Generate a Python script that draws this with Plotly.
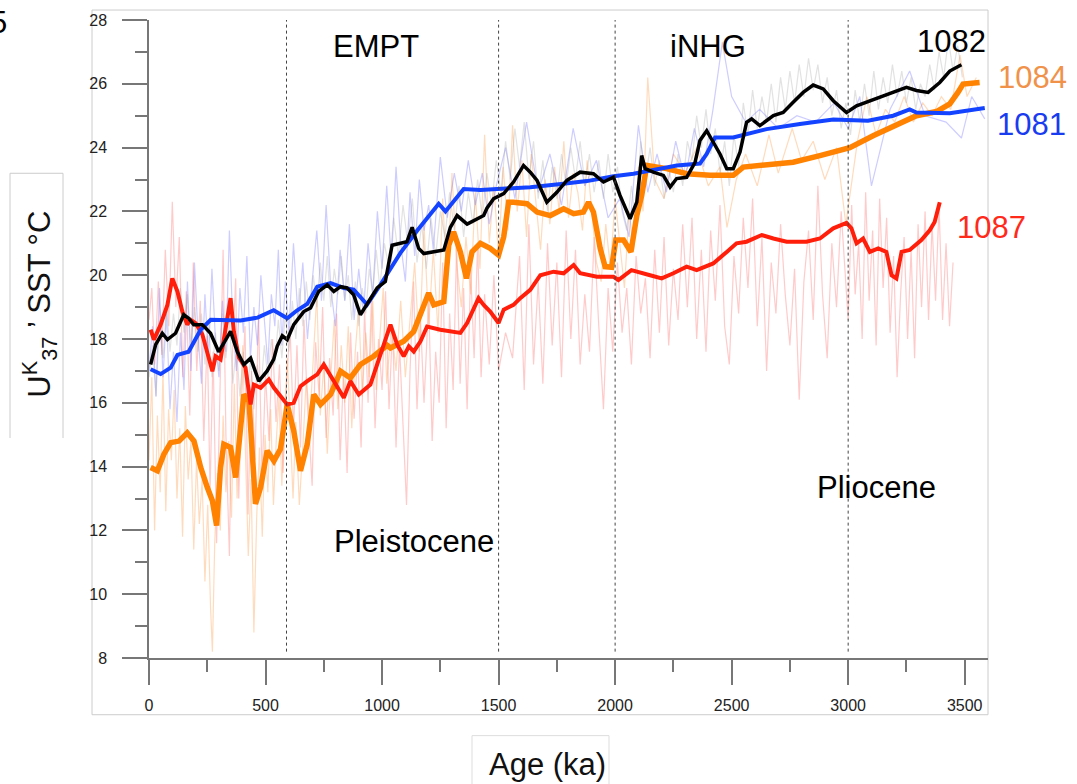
import plotly.graph_objects as go

# ---------------- data ----------------
boundaries = [590, 1500, 2000, 3000]
x_ticks = [0, 500, 1000, 1500, 2000, 2500, 3000, 3500]
y_ticks = [8, 10, 12, 14, 16, 18, 20, 22, 24, 26, 28]

# Site 1081 smoothed
s1081_age = [7, 50, 93, 122, 170, 222, 265, 321, 393, 466, 535, 593, 636, 679, 722, 779, 835, 878, 936, 993,
             1079, 1151, 1243, 1272, 1350, 1422, 1507, 1636, 1778, 1879, 1993, 2079, 2265, 2364, 2393, 2429,
             2507, 2650, 2793, 2936, 3085, 3193, 3264, 3293, 3436, 3521, 3586]
s1081_sst = [17.05, 16.9, 17.1, 17.5, 17.6, 18.3, 18.6, 18.6, 18.58, 18.67, 18.9, 18.65, 18.9, 19.1, 19.64, 19.75,
             19.6, 19.55, 19.08, 19.7, 20.7, 21.4, 22.24, 22.0, 22.7, 22.67, 22.7, 22.76, 22.87, 22.95, 23.1,
             23.18, 23.44, 23.5, 23.8, 24.32, 24.32, 24.58, 24.74, 24.88, 24.84, 25.0, 25.2, 25.1, 25.08, 25.18, 25.24]

# Site 1082 smoothed
s1082_age = [7, 29, 57, 79, 114, 149, 170, 192, 229, 264, 299, 329, 350, 379, 407, 436, 471, 507, 535, 550,
             572, 593, 621, 664, 693, 728, 765, 793, 822, 850, 878, 907, 936, 979, 1014, 1043, 1079, 1107,
             1129, 1157, 1179, 1222, 1265, 1293, 1322, 1365, 1407, 1436, 1450, 1479, 1522, 1564, 1607, 1636,
             1665, 1707, 1750, 1793, 1850, 1907, 1950, 1993, 2021, 2064, 2093, 2114, 2129, 2164, 2207, 2236,
             2264, 2307, 2343, 2364, 2393, 2421, 2450, 2479, 2507, 2536, 2564, 2586, 2621, 2679, 2721, 2764,
             2807, 2850, 2893, 2936, 2993, 3036, 3093, 3150, 3207, 3250, 3293, 3343, 3393, 3436, 3486]
s1082_sst = [17.2, 17.83, 18.18, 17.98, 18.18, 18.76, 18.65, 18.45, 18.45, 18.18, 17.6, 17.98, 18.24, 17.6, 17.2,
             17.4, 16.68, 17.0, 17.36, 17.77, 18.1, 17.98, 18.45, 18.86, 18.97, 19.49, 19.7, 19.49, 19.64, 19.6,
             19.39, 18.76, 19.12, 19.6, 19.8, 20.94, 21.0, 21.05, 21.5, 20.84, 20.68, 20.73, 20.79, 21.5, 21.87,
             21.6, 21.77, 21.87, 22.1, 22.4, 22.56, 22.92, 23.44, 23.23, 22.97, 22.29, 22.6, 22.97, 23.23, 23.18,
             22.92, 23.07, 22.5, 21.77, 22.29, 23.75, 23.34, 23.23, 23.13, 22.76, 23.03, 23.07, 23.54, 24.22,
             24.53, 24.17, 23.8, 23.34, 23.34, 23.86, 24.79, 24.9, 24.69, 25.0, 25.1, 25.42, 25.73, 25.96, 25.84,
             25.47, 25.1, 25.31, 25.47, 25.63, 25.79, 25.89, 25.79, 25.73, 26.04, 26.4, 26.6]

# Site 1084 smoothed
s1084_age = [7, 36, 64, 93, 129, 164, 193, 222, 250, 272, 290, 307, 321, 350, 372, 393, 407, 429, 457, 479, 507,
             536, 564, 593, 621, 650, 679, 707, 736, 779, 822, 864, 907, 964, 1022, 1036, 1093, 1136, 1165, 1200,
             1222, 1265, 1286, 1307, 1336, 1362, 1386, 1422, 1464, 1500, 1522, 1543, 1564, 1622, 1665, 1722,
             1779, 1822, 1864, 1886, 1907, 1936, 1957, 1985, 2003, 2036, 2068, 2093, 2114, 2136, 2221, 2307,
             2407, 2479, 2507, 2550, 2650, 2764, 2879, 2964, 3007, 3107, 3207, 3293, 3379, 3436, 3471, 3493, 3564]
s1084_sst = [13.97, 13.87, 14.39, 14.75, 14.8, 15.06, 14.8, 13.97, 13.35, 12.93, 12.15, 13.97, 14.7, 14.6, 13.66,
             15.01, 16.26, 16.05, 12.83, 13.35, 14.5, 14.18, 14.55, 15.95, 15.12, 13.87, 14.7, 16.26, 15.95, 16.26,
             16.99, 16.78, 17.2, 17.46, 17.8, 17.72, 17.93, 18.24, 18.76, 19.44, 19.07, 19.17, 20.94, 21.36, 20.73,
             19.9, 20.73, 21.0, 20.84, 20.63, 21.2, 22.29, 22.29, 22.24, 21.98, 21.87, 22.08, 21.93, 21.98, 22.29,
             21.98, 20.84, 20.27, 20.25, 21.1, 21.1, 20.73, 21.87, 22.5, 23.44, 23.34, 23.18, 23.13, 23.15, 23.13,
             23.39, 23.44, 23.54, 23.75, 23.9, 24.0, 24.37, 24.69, 25.0, 25.13, 25.37, 25.73, 25.99, 26.04]

# Site 1087 smoothed
s1087_age = [7, 21, 50, 79, 100, 122, 143, 164, 179, 200, 229, 250, 272, 286, 307, 329, 350, 364, 386, 414, 436,
             450, 479, 514, 536, 564, 593, 621, 650, 679, 722, 750, 793, 836, 864, 900, 950, 993, 1036, 1065,
             1093, 1115, 1136, 1165, 1193, 1250, 1336, 1365, 1414, 1436, 1464, 1500, 1522, 1564, 1593, 1636,
             1679, 1736, 1779, 1822, 1850, 1922, 1993, 2014, 2070, 2150, 2200, 2250, 2307, 2350, 2421, 2479,
             2521, 2564, 2629, 2679, 2736, 2821, 2879, 2936, 2993, 3014, 3036, 3064, 3093, 3129, 3164, 3186,
             3207, 3229, 3264, 3314, 3350, 3371, 3393]
s1087_sst = [18.29, 17.98, 18.45, 19.07, 19.9, 19.49, 18.86, 18.45, 18.6, 18.5, 18.14, 17.61, 16.99, 17.46, 17.36,
             18.34, 19.28, 18.24, 17.41, 17.1, 15.95, 16.57, 16.47, 16.73, 16.47, 16.21, 15.95, 16.0, 16.52, 16.68,
             16.89, 17.2, 16.68, 16.16, 16.68, 16.26, 16.57, 17.5, 18.45, 17.82, 17.46, 17.77, 17.61, 17.93, 18.39,
             18.29, 18.19, 18.5, 19.28, 19.07, 18.86, 18.5, 18.92, 19.07, 19.28, 19.54, 20.0, 20.11, 20.06, 20.32,
             20.06, 19.95, 19.95, 19.85, 20.16, 20.0, 19.9, 20.06, 20.27, 20.16, 20.37, 20.73, 21.0, 21.05, 21.26,
             21.15, 21.05, 21.05, 21.15, 21.47, 21.64, 21.47, 21.0, 21.15, 20.73, 20.84, 20.73, 20.0, 19.9, 20.73,
             20.79, 21.1, 21.41, 21.67, 22.29]

# Raw records
r1087_age = [0, 12, 25, 40, 55, 70, 85, 100, 115, 130, 145, 160, 175, 190, 205, 220, 235, 250, 262, 275, 290,
             305, 318, 330, 345, 358, 372, 385, 398, 412, 425, 440, 455, 470, 485, 500, 515, 530, 545, 560, 575,
             590, 605, 620, 635, 650, 665, 680, 700, 715, 730, 745, 760, 775, 790, 805, 820, 835, 850, 865, 880,
             895, 910, 925, 940, 955, 970, 985, 1000, 1015, 1030, 1045, 1060, 1075, 1090, 1105, 1120, 1135, 1150,
             1165, 1180, 1200, 1215, 1230, 1245, 1260, 1275, 1290, 1305, 1320, 1335, 1350, 1365, 1380, 1395, 1410,
             1425, 1440, 1460, 1480, 1500, 1530, 1560, 1590, 1610, 1630, 1650, 1670, 1690, 1710, 1730, 1750, 1770,
             1790, 1810, 1830, 1850, 1870, 1890, 1910, 1930, 1950, 1970, 1990, 2010, 2030, 2050, 2070, 2090, 2110,
             2130, 2150, 2170, 2190, 2210, 2230, 2250, 2270, 2290, 2310, 2330, 2350, 2370, 2390, 2410, 2430, 2450,
             2470, 2490, 2510, 2530, 2550, 2570, 2590, 2610, 2630, 2650, 2670, 2690, 2710, 2730, 2750, 2770, 2790,
             2810, 2830, 2850, 2870, 2890, 2910, 2930, 2950, 2970, 2990, 3000, 3015, 3030, 3045, 3060, 3075, 3090,
             3105, 3120, 3135, 3150, 3165, 3180, 3195, 3210, 3225, 3240, 3255, 3270, 3285, 3300, 3315, 3330, 3345,
             3360, 3375, 3390, 3405, 3420, 3435, 3450]
r1087_sst = [18.6, 19.6, 17.2, 19.8, 17.5, 20.8, 18.4, 22.3, 19.0, 21.2, 16.8, 19.5, 15.6, 20.4, 17.0, 19.2, 14.8,
             18.1, 13.2, 17.6, 11.6, 16.8, 20.8, 15.0, 11.2, 17.5, 19.9, 13.0, 16.2, 18.4, 12.5, 17.0, 14.2, 18.8,
             13.6, 16.9, 14.8, 18.0, 15.4, 17.2, 13.8, 16.6, 18.4, 15.2, 17.8, 14.6, 18.6, 15.9, 13.4, 17.9, 16.2,
             19.0, 14.9, 17.4, 15.6, 18.8, 14.2, 17.0, 13.8, 18.2, 15.5, 17.6, 14.6, 18.9, 16.0, 19.4, 15.2, 18.0,
             16.4, 19.5, 15.8, 18.4, 14.6, 17.8, 15.2, 12.8, 17.0, 19.8, 15.8, 18.6, 16.0, 19.2, 14.8, 17.6, 16.0,
             20.4, 15.2, 18.8, 16.4, 20.9, 16.6, 19.6, 15.8, 20.2, 17.4, 21.0, 16.8, 19.4, 17.2, 20.0, 17.0, 18.2,
             17.4, 20.6, 16.4, 21.6, 17.2, 19.8, 16.6, 21.0, 17.8, 20.4, 16.8, 21.4, 18.0, 20.8, 17.2, 19.4, 17.6,
             21.2, 18.4, 15.8, 19.6, 17.6, 20.4, 18.2, 19.6, 17.2, 20.6, 18.8, 19.9, 17.4, 20.8, 18.2, 21.2, 17.8,
             20.2, 18.6, 21.6, 19.0, 21.8, 18.0, 20.8, 17.6, 21.4, 19.2, 22.2, 18.4, 17.2, 20.6, 18.8, 21.8, 19.6,
             22.4, 18.4, 21.2, 17.0, 20.4, 18.8, 21.6, 19.4, 17.8, 20.2, 16.1, 19.8, 21.4, 18.6, 22.8, 19.4, 17.4,
             21.0, 19.0, 22.0, 19.6, 18.6, 22.2, 19.4, 21.0, 18.0, 22.6, 19.2, 21.4, 17.8, 22.4, 19.6, 21.8, 18.2,
             20.6, 16.8, 19.4, 21.2, 18.0, 20.8, 17.4, 21.6, 19.0, 22.0, 18.6, 21.6, 19.2, 22.2, 18.6, 21.0, 18.4,
             20.4]

r1084_age = [0, 12, 24, 36, 48, 60, 72, 84, 96, 108, 120, 132, 144, 156, 168, 180, 192, 204, 216, 228, 240, 252,
             264, 272, 282, 294, 306, 318, 330, 342, 354, 366, 378, 390, 402, 414, 426, 438, 450, 462, 474, 486,
             498, 510, 522, 534, 546, 558, 570, 582, 594, 606, 618, 630, 645, 660, 675, 690, 705, 720, 735, 750,
             765, 780, 795, 810, 825, 840, 855, 870, 885, 900, 915, 930, 945, 960, 975, 990, 1005, 1020, 1040,
             1060, 1080, 1100, 1120, 1140, 1160, 1180, 1200, 1220, 1240, 1260, 1280, 1300, 1320, 1340, 1360, 1380,
             1400, 1420, 1440, 1460, 1480, 1500, 1520, 1540, 1560, 1580, 1600, 1620, 1640, 1660, 1680, 1700, 1720,
             1740, 1760, 1780, 1800, 1820, 1840, 1860, 1880, 1900, 1920, 1940, 1960, 1980, 2000, 2020, 2040, 2060,
             2080, 2100, 2120, 2140, 2170, 2210, 2250, 2300, 2350, 2400, 2450, 2480, 2520, 2560, 2610, 2660, 2700,
             2760, 2800, 2850, 2900, 2950, 2990, 3040, 3080, 3120, 3160, 3200, 3240, 3280, 3320, 3360, 3400, 3440,
             3480, 3510, 3550]
r1084_sst = [14.2, 16.8, 12.0, 15.6, 13.2, 17.0, 12.6, 15.8, 14.2, 16.4, 13.0, 15.2, 11.8, 15.9, 13.6, 14.8, 11.4,
             14.2, 12.2, 13.6, 10.4, 12.8, 9.6, 8.2, 11.6, 13.8, 12.0, 15.6, 13.2, 14.8, 12.4, 16.6, 13.0, 15.2,
             17.8, 14.4, 11.2, 13.6, 8.8, 12.4, 14.6, 11.8, 15.0, 13.2, 15.8, 12.8, 14.8, 16.2, 13.4, 15.6, 17.4,
             15.2, 13.0, 15.4, 12.8, 14.6, 16.8, 15.4, 17.6, 19.4, 15.6, 17.2, 14.4, 16.8, 18.6, 15.8, 17.8, 16.0,
             18.4, 15.2, 17.6, 19.0, 16.2, 18.2, 16.8, 19.2, 16.4, 18.0, 19.6, 16.6, 18.4, 17.0, 19.2, 16.8, 18.6,
             20.4, 17.6, 21.6, 18.4, 20.8, 18.2, 22.4, 19.6, 23.2, 20.4, 19.0, 21.2, 19.4, 22.6, 20.2, 24.4, 21.0,
             22.8, 20.6, 23.4, 21.4, 24.7, 22.0, 23.6, 21.2, 23.8, 22.2, 20.8, 23.0, 21.6, 23.4, 22.0, 24.2, 21.8,
             23.2, 22.6, 21.4, 23.6, 22.0, 20.4, 19.8, 21.6, 20.2, 22.4, 21.0, 19.6, 22.0, 20.8, 23.4, 22.0, 26.2,
             23.0, 22.4, 23.8, 23.2, 24.0, 22.8, 23.4, 21.5, 23.0, 23.8, 22.8, 24.4, 23.2, 24.6, 23.6, 24.2, 23.0,
             24.0, 21.6, 24.2, 25.6, 24.4, 25.2, 24.8, 25.6, 24.8, 25.4, 25.0, 25.6, 25.2, 26.9, 25.6, 26.2]

r1081_age = [0, 15, 30, 45, 60, 75, 90, 105, 120, 135, 150, 165, 180, 195, 210, 225, 240, 255, 270, 285, 300, 315,
             330, 345, 360, 375, 390, 405, 420, 435, 450, 465, 480, 495, 510, 525, 540, 555, 570, 585, 600, 620,
             640, 660, 680, 700, 720, 740, 760, 780, 800, 820, 840, 860, 880, 900, 920, 940, 960, 980, 1000, 1020,
             1040, 1060, 1080, 1100, 1120, 1140, 1160, 1180, 1200, 1220, 1250, 1280, 1310, 1340, 1370, 1400, 1430,
             1460, 1490, 1530, 1570, 1620, 1670, 1720, 1770, 1820, 1870, 1920, 1970, 2020, 2060, 2100, 2140, 2180,
             2220, 2260, 2300, 2340, 2380, 2420, 2460, 2500, 2560, 2620, 2700, 2780, 2860, 2940, 3000, 3050, 3100,
             3180, 3264, 3330, 3420, 3486, 3530, 3586]
r1081_sst = [17.0, 18.4, 16.2, 19.6, 16.8, 18.8, 15.8, 17.6, 15.4, 18.2, 16.4, 19.8, 17.0, 20.4, 18.2, 16.6, 19.4,
             17.4, 20.2, 18.0, 16.8, 19.2, 17.6, 21.4, 18.4, 17.0, 19.6, 18.2, 20.6, 17.4, 19.0, 17.8, 20.0, 18.6,
             17.2, 19.4, 18.4, 20.8, 17.8, 19.8, 18.2, 21.0, 18.6, 20.4, 18.0, 19.8, 21.4, 19.2, 22.2, 19.6, 18.4,
             20.8, 19.2, 21.6, 18.6, 20.2, 18.8, 21.0, 19.4, 22.0, 20.2, 22.8, 20.4, 23.4, 21.0, 19.8, 22.6, 20.6,
             23.0, 21.4, 22.2, 20.8, 23.7, 21.8, 23.2, 22.0, 23.6, 22.2, 23.2, 21.6, 22.8, 24.0, 22.4, 24.8, 22.6,
             23.8, 22.2, 24.6, 22.8, 23.6, 21.8, 22.4, 21.2, 24.7, 22.6, 23.8, 22.6, 24.2, 23.0, 24.6, 23.4, 25.2,
             27.3, 25.6, 24.8, 25.2, 24.6, 25.0, 24.8, 25.4, 24.6, 25.6, 22.8, 25.2, 26.4, 25.0, 24.8, 24.3, 25.6,
             24.9]

r1082_age = [0, 15, 30, 45, 60, 75, 90, 105, 120, 135, 150, 165, 180, 195, 210, 225, 240, 255, 270, 285, 300, 315,
             330, 345, 360, 375, 390, 405, 420, 435, 450, 465, 480, 495, 510, 525, 540, 555, 570, 585, 600, 615,
             630, 645, 660, 675, 690, 705, 720, 735, 750, 765, 780, 795, 810, 825, 840, 855, 870, 885, 900, 915,
             930, 945, 960, 975, 990, 1010, 1030, 1050, 1070, 1090, 1110, 1130, 1150, 1170, 1190, 1210, 1230, 1250,
             1270, 1290, 1310, 1330, 1350, 1370, 1390, 1410, 1430, 1450, 1470, 1490, 1510, 1530, 1550, 1570, 1590,
             1610, 1630, 1650, 1670, 1690, 1710, 1730, 1750, 1770, 1790, 1810, 1830, 1850, 1870, 1890, 1910, 1930,
             1950, 1970, 1990, 2010, 2030, 2050, 2070, 2090, 2110, 2130, 2150, 2170, 2190, 2210, 2230, 2250, 2270,
             2290, 2310, 2330, 2350, 2370, 2390, 2410, 2430, 2450, 2470, 2490, 2510, 2530, 2550, 2570, 2590, 2610,
             2630, 2650, 2670, 2690, 2710, 2730, 2750, 2770, 2790, 2810, 2830, 2850, 2870, 2890, 2910, 2930, 2950,
             2970, 2990, 3010, 3030, 3050, 3070, 3090, 3110, 3130, 3150, 3170, 3190, 3210, 3230, 3250, 3270, 3290,
             3310, 3330, 3350, 3370, 3390, 3410, 3430, 3450, 3470, 3490]
r1082_sst = [16.8, 17.8, 16.2, 18.6, 17.4, 19.0, 17.6, 18.8, 17.8, 19.6, 18.2, 19.4, 17.8, 19.0, 17.6, 18.8, 17.2,
             18.6, 16.8, 18.2, 17.0, 18.8, 17.4, 18.6, 16.6, 17.8, 16.2, 17.6, 16.0, 17.4, 15.8, 17.2, 16.4, 17.8,
             16.8, 18.0, 17.2, 18.6, 17.4, 18.8, 17.6, 19.2, 18.0, 19.6, 18.4, 19.8, 18.6, 20.0, 19.0, 20.4, 19.2,
             20.6, 19.0, 20.2, 19.4, 20.6, 19.2, 20.0, 18.6, 19.8, 18.4, 19.6, 18.8, 20.2, 19.4, 20.8, 19.6, 21.0,
             20.2, 21.8, 20.6, 22.2, 21.0, 22.4, 20.4, 21.6, 20.2, 21.8, 20.6, 22.0, 21.2, 22.6, 21.4, 22.8, 21.2,
             22.6, 21.6, 23.0, 21.8, 23.2, 22.2, 23.6, 22.6, 24.2, 23.0, 24.6, 23.4, 24.8, 23.0, 24.2, 22.4, 23.6,
             22.0, 23.4, 22.4, 23.8, 22.8, 24.0, 23.0, 24.2, 22.8, 23.8, 22.6, 23.6, 22.4, 23.8, 22.6, 23.4, 22.0,
             21.4, 22.8, 21.6, 24.2, 23.0, 24.0, 22.8, 23.6, 22.4, 23.4, 22.6, 23.8, 22.8, 24.2, 23.6, 25.0, 24.0,
             25.2, 23.8, 24.6, 23.2, 24.2, 22.8, 24.4, 23.4, 25.4, 24.4, 25.8, 24.6, 25.6, 24.8, 26.0, 24.8, 26.2,
             25.2, 26.4, 25.4, 26.6, 25.6, 26.8, 25.8, 26.6, 25.4, 26.2, 25.0, 25.8, 24.6, 25.4, 24.4, 25.8, 24.8,
             26.0, 25.0, 26.4, 25.2, 26.2, 25.4, 26.6, 25.6, 26.4, 25.4, 26.2, 25.2, 26.0, 25.6, 26.6, 25.8, 27.0,
             26.2, 27.4, 26.4, 27.2, 26.2]

# ---------------- figure ----------------
W, H = 1077, 784
ML, MR, MT, MB = 149, 89, 17, 126
PW, PH = W - ML - MR, H - MT - MB


def px(x):
    return (x - ML) / PW


def py(y):
    return (H - MB - y) / PH


FONT = "Liberation Sans, Arial, Helvetica, sans-serif"
fig = go.Figure()

raw = [
    (r1087_age, r1087_sst, "rgba(255,90,90,0.32)"),
    (r1084_age, r1084_sst, "rgba(255,165,90,0.40)"),
    (r1081_age, r1081_sst, "rgba(90,90,255,0.30)"),
    (r1082_age, r1082_sst, "rgba(160,160,160,0.30)"),
]
for a, v, c in raw:
    fig.add_trace(go.Scatter(x=a, y=v, mode="lines", line=dict(color=c, width=1.2),
                             hoverinfo="skip", showlegend=False))

smooth = [
    (s1084_age, s1084_sst, "#ff8200", 5.5),
    (s1087_age, s1087_sst, "#ff1e0a", 4.0),
    (s1081_age, s1081_sst, "#1443ff", 4.0),
    (s1082_age, s1082_sst, "#000000", 3.5),
]
for a, v, c, w in smooth:
    fig.add_trace(go.Scatter(x=a, y=v, mode="lines", line=dict(color=c, width=w),
                             showlegend=False))

shapes = []
for b in boundaries:
    shapes.append(dict(type="line", xref="x", yref="y", x0=b, x1=b, y0=8.2, y1=28,
                       line=dict(color="#444444", width=1, dash="dot")))
# outer frame
shapes.append(dict(type="rect", xref="paper", yref="paper", x0=px(92), x1=px(988), y0=py(715), y1=py(7),
                   line=dict(color="#cccccc", width=1), layer="below"))
# y-title frame (open at bottom)
shapes.append(dict(type="path", xref="paper", yref="paper",
                   path=f"M {px(10)} {py(437)} L {px(10)} {py(171)} L {px(63)} {py(171)} L {px(63)} {py(437)}",
                   line=dict(color="#cccccc", width=1)))
# x-title frame
shapes.append(dict(type="path", xref="paper", yref="paper",
                   path=f"M {px(472)} {py(800)} L {px(472)} {py(736)} L {px(609)} {py(736)} L {px(609)} {py(800)}",
                   line=dict(color="#dddddd", width=1)))

ann = []


def text(t, x, y, color="#000000", size=31, xanchor="center", angle=0):
    ann.append(dict(text=t, x=px(x), y=py(y), xref="paper", yref="paper", showarrow=False,
                    xanchor=xanchor, yanchor="middle", textangle=angle,
                    font=dict(family=FONT, size=size, color=color)))


text("EMPT", 376, 44)
text("iNHG", 708, 44)
text("Pleistocene", 414, 541)
text("Pliocene", 876, 487)
text("1082", 951, 39)
text("1084", 1032, 75, color="#f0924a")
text("1081", 1031, 122, color="#1a3cf0")
text("1087", 991, 225, color="#ff2a1a")
text("5", 9, 20, xanchor="right")
text("Age (ka)", 547, 765, color="#111111", size=31)
text("U<sup>K</sup><sub>37</sub> ’ SST °C", 40, 302, color="#111111", size=31, angle=-90)

axis_common = dict(showgrid=False, zeroline=False, showline=True, linecolor="#777777", linewidth=1.5,
                   ticks="outside", tickcolor="#777777", tickwidth=1.5, ticklen=25,
                   tickfont=dict(family=FONT, size=16, color="#222222"))

fig.update_layout(
    width=W, height=H, margin=dict(l=ML, r=MR, t=MT, b=MB),
    paper_bgcolor="white", plot_bgcolor="white",
    xaxis=dict(range=[0, 3600], tickvals=x_ticks, ticklabelstandoff=7,
               minor=dict(ticks="outside", ticklen=12, dtick=250, tick0=0, tickcolor="#777777", tickwidth=1.5),
               **axis_common),
    yaxis=dict(range=[8, 28], tickvals=y_ticks, ticklabelstandoff=12,
               minor=dict(ticks="outside", ticklen=12, dtick=1, tick0=8, tickcolor="#777777", tickwidth=1.5),
               **axis_common),
    shapes=shapes, annotations=ann, showlegend=False,
)

fig.write_html("out.html")
